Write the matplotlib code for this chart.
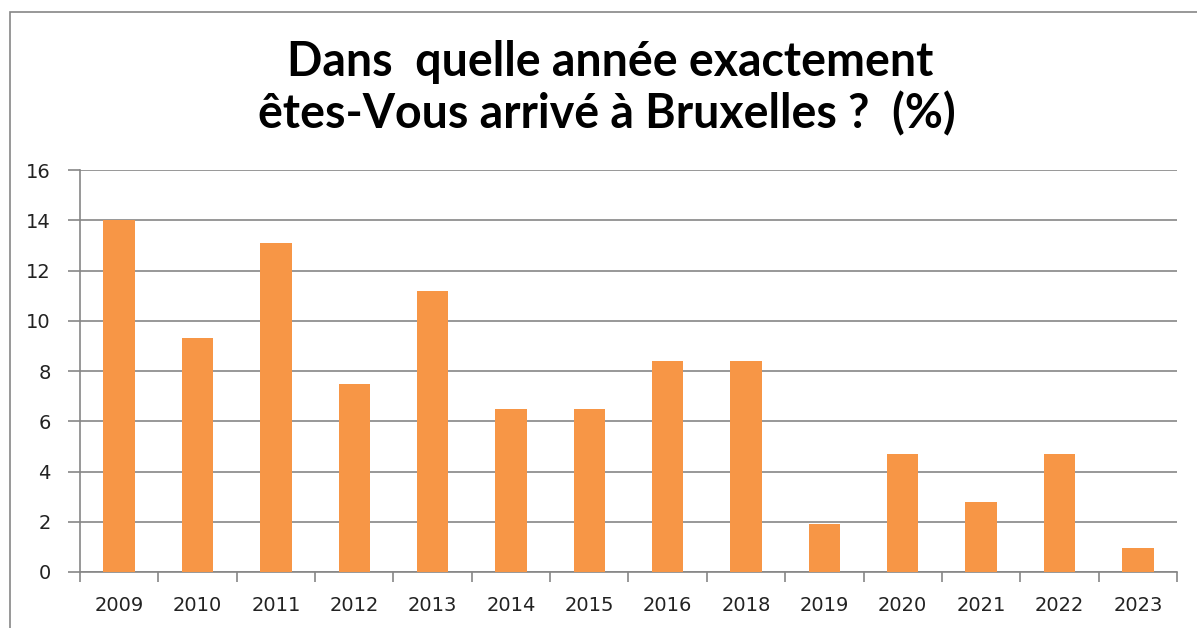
import matplotlib.pyplot as plt
import matplotlib.patches as patches
from matplotlib.ticker import FixedLocator, NullFormatter

#---------------- données ----------------
annees = ["2009", "2010", "2011", "2012", "2013", "2014", "2015",
          "2016", "2018", "2019", "2020", "2021", "2022", "2023"]
pourcentages = [14.0, 9.3, 13.1, 7.5, 11.2, 6.5, 6.5,
                8.4, 8.4, 1.9, 4.7, 2.8, 4.7, 0.95]

ORANGE = "#F79646"
GRIS = "#868686"

#---------------- figure ----------------
fig = plt.figure(figsize=(11.97, 6.28), dpi=100)
ax = fig.add_axes([0.0668, 0.0892, 0.9165, 0.6400])

# cadre du graphique (coupé à droite et en bas comme dans la capture)
fig.patches.append(patches.Rectangle((10 / 1197, -0.05), 1.2, 1 - 12 / 628 + 0.05,
                                     transform=fig.transFigure, fill=False,
                                     edgecolor=GRIS, linewidth=1.2))

x = range(len(annees))
ax.bar(x, pourcentages, width=0.4, color=ORANGE, zorder=3)

ax.set_xlim(-0.5, len(annees) - 0.5)
ax.set_ylim(0, 16)
ax.set_yticks(range(0, 17, 2))
ax.yaxis.grid(True, color=GRIS, linewidth=1.2, zorder=0)

# étiquettes au centre, graduations entre les catégories
ax.set_xticks(list(x))
ax.set_xticklabels(annees)
ax.xaxis.set_minor_locator(FixedLocator([i - 0.5 for i in range(len(annees) + 1)]))
ax.xaxis.set_minor_formatter(NullFormatter())
ax.tick_params(axis="x", which="major", length=0, pad=17, labelsize=14, colors="#222222")
ax.tick_params(axis="x", which="minor", length=7, width=1.2, color=GRIS, direction="out")
ax.tick_params(axis="y", length=9, width=1.2, color=GRIS, pad=12, labelsize=14,
               labelcolor="#222222")

for cote in ["top", "right"]:
    ax.spines[cote].set_visible(False)
for cote in ["left", "bottom"]:
    ax.spines[cote].set_color(GRIS)
    ax.spines[cote].set_linewidth(1.2)

fig.text(0.51, 0.902, "Dans  quelle année exactement", ha="center", va="center",
         fontsize=33.5, fontweight="bold", family="Lato")
fig.text(0.507, 0.818, "êtes-Vous arrivé à Bruxelles ?  (%)", ha="center", va="center",
         fontsize=33.5, fontweight="bold", family="Lato")

plt.savefig("out.png", dpi=100)
